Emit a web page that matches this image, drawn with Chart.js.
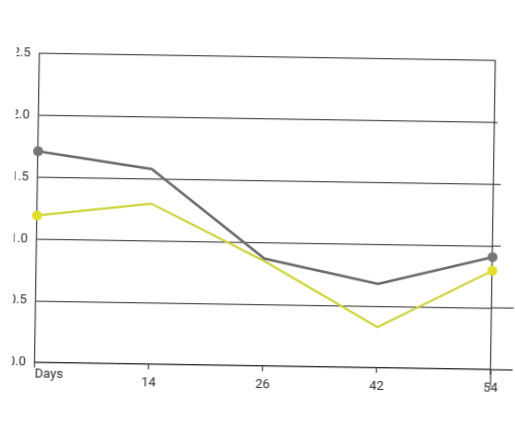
<!DOCTYPE html>
<html>
<head>
<meta charset="utf-8">
<script src="https://cdn.jsdelivr.net/npm/chart.js@4.4.0/dist/chart.umd.min.js"></script>
<style>
    html, body { margin: 0; padding: 0; background: #fff; }
    body { width: 515px; height: 447px; position: relative; overflow: hidden; }
    /* the sheet was scanned a little crooked, and its left edge cuts the first digit of the y labels */
    #sheet { position: absolute; left: 0; top: 0; width: 515px; height: 447px; transform: rotate(0.9deg); transform-origin: 257.5px 223.5px; }
    #clip { position: absolute; left: 14px; top: 0; width: 501px; height: 447px; overflow: hidden; }
    #chart { position: absolute; left: -14px; top: 0; }
</style>
</head>
<body>
<div id="sheet"><div id="clip"><canvas id="chart" width="515" height="447"></canvas></div></div>
<script>
// data
const days = ['Days', '14', '26', '42', '54'];
const grayValues = [1.71, 1.58, 0.87, 0.68, 0.91];
const yellowValues = [1.19, 1.30, 0.85, 0.33, 0.80];
const yTicks = [0, 0.5, 1.0, 1.5, 2.0, 2.5];

const lineColor = 'rgba(40, 40, 40, 0.8)';
const textColor = '#2e2e2e';

// "Days" sits a bit higher than the numbers, plus a few scan details
const extras = {
    id: 'extras',
    afterDraw(chart) {
        const { ctx, chartArea, scales } = chart;
        const x = scales.x, y = scales.y;
        ctx.save();
        ctx.fillStyle = textColor;
        ctx.font = '13px Roboto';
        ctx.textBaseline = 'middle';
        ctx.textAlign = 'left';
        ctx.fillText(days[0], chartArea.left, chartArea.bottom + 12);

        ctx.strokeStyle = lineColor;
        ctx.lineWidth = 1.3;
        ctx.beginPath();
        const xr = x.getPixelForTick(days.length - 1);
        ctx.moveTo(xr, chartArea.bottom);
        ctx.lineTo(xr, chartArea.bottom + 17);
        // gridlines that run on past the right edge
        [[0, 30], [0.5, 30], [1.0, 8], [1.5, 7], [2.0, 3]].forEach(([v, len]) => {
            const py = y.getPixelForValue(v);
            ctx.moveTo(chartArea.right, py);
            ctx.lineTo(chartArea.right + len, py);
        });
        ctx.stroke();
        ctx.restore();
    }
};

new Chart(document.getElementById('chart'), {
    type: 'line',
    data: {
        labels: days,
        datasets: [
            {
                data: grayValues,
                borderColor: '#6a6a6a', backgroundColor: '#767676',
                borderWidth: 2.5, tension: 0,
                pointRadius: [5, 0, 0, 0, 5], pointBorderWidth: 0,
                pointBackgroundColor: '#767676'
            },
            {
                data: yellowValues,
                borderColor: '#cfd33a', backgroundColor: '#e2dd2a',
                borderWidth: 2.2, tension: 0,
                pointRadius: [5, 0, 0, 0, 5], pointBorderWidth: 0,
                pointBackgroundColor: '#e2dd2a'
            }
        ]
    },
    options: {
        responsive: false, animation: false,
        layout: { padding: { top: 57, right: 22, left: 0, bottom: 0 } },
        plugins: { legend: { display: false }, tooltip: { enabled: false } },
        scales: {
            x: {
                offset: false,
                afterFit: (s) => { s.height = 81; },
                grid: {
                    color: (c) => c.index === days.length - 1 ? lineColor : 'rgba(0,0,0,0)',
                    tickColor: lineColor, tickLength: 5, lineWidth: 1.3
                },
                border: { display: true, color: lineColor, width: 1.3 },
                ticks: {
                    color: textColor, font: { family: 'Roboto', size: 13 },
                    padding: 6, maxRotation: 0, autoSkip: false,
                    callback: (v, i) => i === 0 ? '' : days[i]
                }
            },
            y: {
                min: yTicks[0], max: yTicks[yTicks.length - 1],
                afterFit: (s) => { s.width = 37; },
                afterBuildTicks: (s) => { s.ticks = yTicks.map(v => ({ value: v })); },
                grid: { color: lineColor, lineWidth: 1.3, drawTicks: false },
                border: { display: true, color: lineColor, width: 1.3 },
                ticks: {
                    color: textColor, font: { family: 'Roboto', size: 13 },
                    padding: 9,
                    callback: (v) => Number(v).toFixed(1)
                }
            }
        }
    },
    plugins: [extras]
});
</script>
</body>
</html>
